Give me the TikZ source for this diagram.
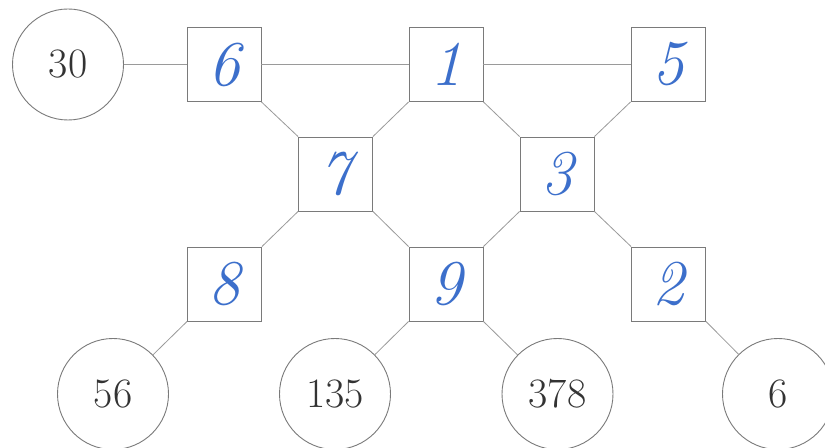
\documentclass[tikz,border=0pt]{standalone}
\usepackage{tikz}
\usepackage{xcolor}
\definecolor{Ink}{HTML}{333333}
\definecolor{Frame}{HTML}{7A7A7A}
\definecolor{Wire}{HTML}{9A9A9A}
\definecolor{Pen}{HTML}{3C6FCB}
\tikzset{
  cell/.style={draw=Frame,line width=0.9bp,minimum size=74bp,inner sep=0pt,font=\fontsize{64}{64}\selectfont\itshape,text=Pen},
  ring/.style={circle,draw=Frame,line width=0.9bp,minimum size=111bp,inner sep=0pt,font=\fontsize{42}{42}\selectfont,text=Ink},
  wire/.style={draw=Wire,line width=0.8bp}
}

\begin{document}
\begin{tikzpicture}[x=1bp,y=-1bp]
  \fill[white] (0,0) rectangle (825,448);
  \useasboundingbox (0,0) rectangle (825,448);
  % top row
  \node[ring] (r30) at (68,64.5) {30};
  \node[cell] (n6) at (224,64.5) {6};
  \node[cell] (n1) at (446,64.5) {1};
  \node[cell] (n5) at (668,64.5) {5};
  % middle row
  \node[cell] (n7) at (335.5,174) {7};
  \node[cell] (n3) at (557,174) {3};
  % bottom row
  \node[cell] (n8) at (224.5,284) {8};
  \node[cell] (n9) at (446,284) {9};
  \node[cell] (n2) at (668.5,284) {2};
  \node[ring] (r56) at (113,394) {56};
  \node[ring] (r135) at (335,394) {135};
  \node[ring] (r378) at (557.5,394) {378};
  \node[ring] (r6) at (778,394) {6};
  % links
  \draw[wire] (r30.east) -- (n6.west);
  \draw[wire] (n6) -- (n1);
  \draw[wire] (n1) -- (n5);
  \draw[wire] (n6.south east) -- (n7.north west);
  \draw[wire] (n1.south west) -- (n7.north east);
  \draw[wire] (n1.south east) -- (n3.north west);
  \draw[wire] (n5.south west) -- (n3.north east);
  \draw[wire] (n7.south west) -- (n8.north east);
  \draw[wire] (n7.south east) -- (n9.north west);
  \draw[wire] (n3.south west) -- (n9.north east);
  \draw[wire] (n3.south east) -- (n2.north west);
  \draw[wire] (n8.south west) -- (r56);
  \draw[wire] (n9.south west) -- (r135);
  \draw[wire] (n9.south east) -- (r378);
  \draw[wire] (n2.south east) -- (r6);
\end{tikzpicture}
\end{document}
